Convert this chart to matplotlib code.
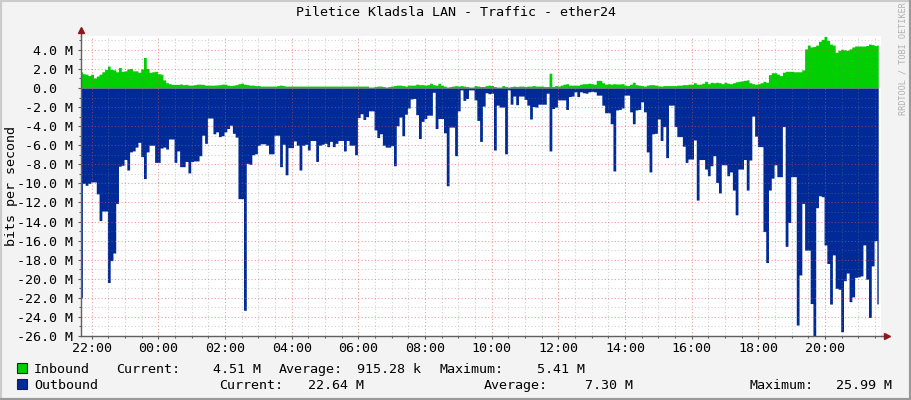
"""
Piletice Kladsla LAN traffic graph
"""
import numpy as np
import matplotlib
matplotlib.use("Agg")
import matplotlib.pyplot as plt
from matplotlib.lines import Line2D
from matplotlib.patches import Rectangle
from matplotlib.ticker import FixedLocator, MultipleLocator

# traffic in Mbit/s, one value per 5 minute sample
inbound = [
    1.7, 1.5, 1.45, 1.3, 1.45, 1.05, 1.25, 1.45, 1.7, 1.95, 2.3, 1.95,
    1.9, 1.7, 2.15, 1.75, 1.8, 2.0, 2.05, 1.8, 1.8, 1.65, 2.0, 3.2,
    2.05, 1.65, 1.7, 1.75, 1.5, 1.45, 0.85, 0.55, 0.45, 0.38, 0.38, 0.38,
    0.42, 0.35, 0.38, 0.3, 0.3, 0.35, 0.4, 0.4, 0.38, 0.3, 0.3, 0.3,
    0.3, 0.32, 0.35, 0.4, 0.4, 0.3, 0.25, 0.3, 0.35, 0.45, 0.5, 0.4,
    0.35, 0.3, 0.3, 0.25, 0.25, 0.2, 0.2, 0.2, 0.2, 0.2, 0.2, 0.25,
    0.3, 0.25, 0.2, 0.2, 0.2, 0.2, 0.2, 0.2, 0.2, 0.2, 0.2, 0.2,
    0.2, 0.2, 0.2, 0.2, 0.2, 0.2, 0.2, 0.2, 0.2, 0.2, 0.2, 0.2,
    0.2, 0.2, 0.2, 0.2, 0.2, 0.2, 0.2, 0.2, 0.1, 0.1, 0.15, 0.2,
    0.2, 0.15, 0.1, 0.15, 0.2, 0.25, 0.3, 0.3, 0.25, 0.2, 0.3, 0.3,
    0.3, 0.4, 0.35, 0.35, 0.3, 0.35, 0.5, 0.35, 0.3, 0.5, 0.3, 0.2,
    0.1, 0.15, 0.2, 0.25, 0.2, 0.25, 0.2, 0.15, 0.1, 0.1, 0.25, 0.2,
    0.15, 0.15, 0.25, 0.3, 0.25, 0.15, 0.1, 0.1, 0.25, 0.15, 0.1, 0.15,
    0.2, 0.15, 0.2, 0.2, 0.15, 0.2, 0.2, 0.25, 0.2, 0.2, 0.2, 0.15,
    0.15, 1.55, 0.15, 0.25, 0.2, 0.3, 0.4, 0.45, 0.3, 0.3, 0.3, 0.3,
    0.4, 0.45, 0.45, 0.5, 0.45, 0.4, 0.8, 0.8, 0.55, 0.4, 0.45, 0.4,
    0.45, 0.42, 0.42, 0.45, 0.3, 0.25, 0.4, 0.6, 0.35, 0.3, 0.25, 0.2,
    0.3, 0.35, 0.35, 0.3, 0.22, 0.2, 0.25, 0.25, 0.25, 0.25, 0.25, 0.3,
    0.3, 0.35, 0.35, 0.4, 0.4, 0.55, 0.4, 0.4, 0.5, 0.7, 0.45, 0.6,
    0.55, 0.6, 0.55, 0.45, 0.6, 0.5, 0.45, 0.55, 0.65, 0.7, 0.75, 0.8,
    0.85, 0.55, 0.45, 0.4, 0.45, 0.55, 0.7, 0.6, 1.4, 1.6, 1.6, 1.45,
    1.3, 1.65, 1.75, 1.75, 1.75, 1.7, 1.7, 1.7, 1.9, 4.1, 4.5, 4.3,
    4.35, 4.5, 4.9, 5.1, 5.41, 5.0, 4.6, 4.5, 3.75, 3.95, 4.05, 4.0,
    3.95, 4.1, 4.3, 4.4, 4.4, 4.4, 4.4, 4.45, 4.6, 4.55, 4.45, 4.51,
]
outbound = [
    22.0, 10.0, 10.2, 10.0, 9.85, 9.85, 11.1, 13.9, 12.9, 12.9, 20.4, 18.1,
    17.3, 12.1, 8.2, 8.1, 7.5, 8.6, 6.7, 6.6, 6.2, 5.7, 7.2, 9.5,
    6.7, 6.0, 6.0, 7.8, 7.8, 6.3, 6.2, 6.4, 5.35, 5.35, 7.8, 6.6,
    8.25, 8.25, 7.7, 8.9, 7.7, 7.65, 7.65, 7.1, 4.95, 5.8, 3.15, 3.15,
    4.8, 4.6, 5.1, 5.0, 4.6, 4.25, 3.9, 4.75, 5.15, 11.6, 11.6, 23.3,
    7.9, 8.0, 7.0, 6.9, 6.0, 5.85, 5.85, 6.0, 6.9, 6.9, 4.95, 4.95,
    8.25, 5.9, 9.1, 6.25, 6.25, 5.55, 6.0, 8.6, 6.0, 5.9, 6.5, 5.5,
    5.5, 7.7, 6.0, 5.9, 5.8, 6.15, 5.6, 6.15, 5.8, 5.5, 5.5, 6.6,
    5.5, 6.0, 6.0, 7.0, 3.1, 2.7, 3.3, 3.0, 2.4, 2.4, 4.4, 5.2,
    4.8, 6.0, 6.2, 6.2, 6.05, 8.15, 3.95, 3.05, 5.0, 2.75, 2.1, 1.15,
    1.1, 2.8, 5.3, 3.5, 3.2, 2.85, 2.85, 0.45, 4.25, 3.2, 3.2, 4.7,
    10.25, 4.1, 4.1, 7.1, 2.4, 0.2, 1.3, 1.1, 0.2, 0.2, 1.25, 3.4,
    5.6, 1.9, 0.5, 0.6, 0.55, 6.5, 1.8, 2.0, 2.0, 6.9, 0.2, 1.7,
    0.85, 1.75, 0.85, 0.85, 1.2, 1.8, 3.25, 1.95, 2.0, 1.7, 1.7, 1.7,
    0.55, 6.6, 2.15, 2.0, 1.25, 1.25, 1.25, 2.25, 0.9, 0.85, 0.4, 0.9,
    0.4, 0.5, 0.55, 0.4, 0.35, 0.4, 0.75, 0.75, 1.8, 2.6, 2.6, 3.75,
    8.7, 2.3, 2.25, 2.1, 0.75, 0.75, 2.5, 3.75, 2.3, 2.25, 1.45, 2.5,
    6.7, 8.8, 4.8, 4.75, 3.25, 5.5, 4.05, 7.3, 1.8, 1.8, 4.05, 5.1,
    5.1, 6.1, 7.8, 7.45, 7.45, 5.45, 11.75, 7.5, 7.5, 8.5, 9.2, 8.15,
    7.1, 9.9, 11.0, 8.05, 8.05, 9.2, 8.8, 10.7, 13.3, 8.5, 8.5, 7.5,
    10.7, 7.55, 2.95, 5.05, 6.15, 6.15, 15.05, 18.3, 10.7, 9.45, 8.05, 9.3,
    9.3, 4.05, 16.6, 14.1, 9.3, 9.3, 24.85, 19.6, 12.1, 17.0, 17.0, 22.6,
    26.0, 12.55, 11.3, 11.4, 16.45, 18.4, 22.65, 17.5, 21.0, 21.1, 25.55, 20.2,
    19.4, 22.4, 21.9, 19.85, 19.8, 19.7, 16.45, 20.05, 24.05, 18.65, 16.0, 22.64,
]
y_ticks = [4, 2, 0, -2, -4, -6, -8, -10, -12, -14, -16, -18, -20, -22, -24, -26]
x_tick_hours = [22, 24, 26, 28, 30, 32, 34, 36, 38, 40, 42, 44]
x_tick_labels = ["22:00", "00:00", "02:00", "04:00", "06:00", "08:00",
                 "10:00", "12:00", "14:00", "16:00", "18:00", "20:00"]
stats_inbound = ["4.51 M", "915.28 k", "5.41 M"]
stats_outbound = ["22.64 M", "7.30 M", "25.99 M"]

WIDTH, HEIGHT = 911, 400
GREEN, BLUE = "#00CF00", "#002A97"
MONO = "DejaVu Sans Mono"


def px(x, y):
    """pixel position, from the top left, to figure fraction"""
    return x / WIDTH, 1 - y / HEIGHT


def label(x, y, text, **kwargs):
    fx, fy = px(x, y)
    kwargs.setdefault("fontsize", 9.6)
    kwargs.setdefault("color", "#000000")
    kwargs.setdefault("family", MONO)
    kwargs.setdefault("va", "baseline")
    fig.text(fx, fy, text, **kwargs)


fig = plt.figure(figsize=(WIDTH / 100, HEIGHT / 100), dpi=100, facecolor="#F3F3F3")
ax = fig.add_axes([81 / WIDTH, 64 / HEIGHT, 800 / WIDTH, 300 / HEIGHT], facecolor="white")

start = 21 + 40.8 / 60
hours = start + np.arange(len(outbound)) * 24 / 288
ax.fill_between(hours, inbound, 0, step="mid", color=GREEN, lw=0, zorder=2)
ax.fill_between(hours, -np.array(outbound), 0, step="mid", color=BLUE, lw=0, zorder=2)

ax.set_xlim(start, start + 24)
ax.set_ylim(-26, 5.45)

ax.xaxis.set_major_locator(FixedLocator(x_tick_hours))
ax.xaxis.set_minor_locator(MultipleLocator(0.5))
ax.set_xticklabels(x_tick_labels, family=MONO, fontsize=9.6)
ax.yaxis.set_major_locator(FixedLocator(y_ticks))
ax.yaxis.set_minor_locator(MultipleLocator(1))
ax.set_yticklabels([f"{v:.1f} M" if v else "0.0  " for v in y_ticks], family=MONO, fontsize=9.6)

ax.grid(which="minor", color="#808080", alpha=0.35, lw=0.8, ls=(0, (1, 2)), zorder=3)
ax.grid(which="major", color="#E05050", alpha=0.55, lw=0.8, ls=(0, (1, 2)), zorder=3)
ax.set_axisbelow(False)

ax.tick_params(which="major", length=2.5, width=0.8, color="#606060", pad=3)
ax.tick_params(which="minor", length=1.5, width=0.8, color="#606060")
ax.tick_params(axis="x", which="major", pad=1.5)

for side in ("top", "right"):
    ax.spines[side].set_visible(False)
for side in ("left", "bottom"):
    ax.spines[side].set_color("#606060")
    ax.spines[side].set_linewidth(1.0)

# axis arrows past the end of each axis
ax.plot([1, 1.007], [0, 0], color="#606060", lw=1, transform=ax.transAxes, clip_on=False)
ax.plot([0, 0], [1, 1.02], color="#606060", lw=1, transform=ax.transAxes, clip_on=False)
ax.plot(1.0075, 0, marker=">", ms=4, color="#8B1A1A", transform=ax.transAxes, clip_on=False)
ax.plot(0, 1.02, marker="^", ms=4, color="#8B1A1A", transform=ax.transAxes, clip_on=False)

label(456, 13, "Piletice Kladsla LAN - Traffic - ether24", ha="center", va="center")
label(11.5, 186, "bits per second", rotation=90, ha="center", va="center")
label(903, 59, "RRDTOOL / TOBI OETIKER", rotation=90, ha="center", va="center",
      fontsize=6.1, color="#B0B0B0")

# legend rows
row1, row2 = 373, 389
for y, colour in ((row1, GREEN), (row2, BLUE)):
    fig.patches.append(Rectangle(px(17, y), 10 / WIDTH, 10 / HEIGHT, transform=fig.transFigure,
                                 facecolor=colour, edgecolor="#222222", lw=0.8))
label(34, row1, "Inbound")
label(116, row1, "Current:")
label(261, row1, stats_inbound[0], ha="right")
label(279, row1, "Average:")
label(421, row1, stats_inbound[1], ha="right")
label(440, row1, "Maximum:")
label(585, row1, stats_inbound[2], ha="right")
label(34, row2, "Outbound")
label(219, row2, "Current:")
label(364, row2, stats_outbound[0], ha="right")
label(484, row2, "Average:")
label(633, row2, stats_outbound[1], ha="right")
label(749, row2, "Maximum:")
label(892, row2, stats_outbound[2], ha="right")

# bevelled image border
for xs, ys, colour in (([0, 0], [0, 1], "#CBCBCB"), ([0, 1], [1, 1], "#CBCBCB"),
                       ([1, 1], [0, 1], "#999999"), ([0, 1], [0, 0], "#999999")):
    fig.add_artist(Line2D(xs, ys, color=colour, lw=3, transform=fig.transFigure))

fig.savefig("out.png", dpi=100, facecolor=fig.get_facecolor())
